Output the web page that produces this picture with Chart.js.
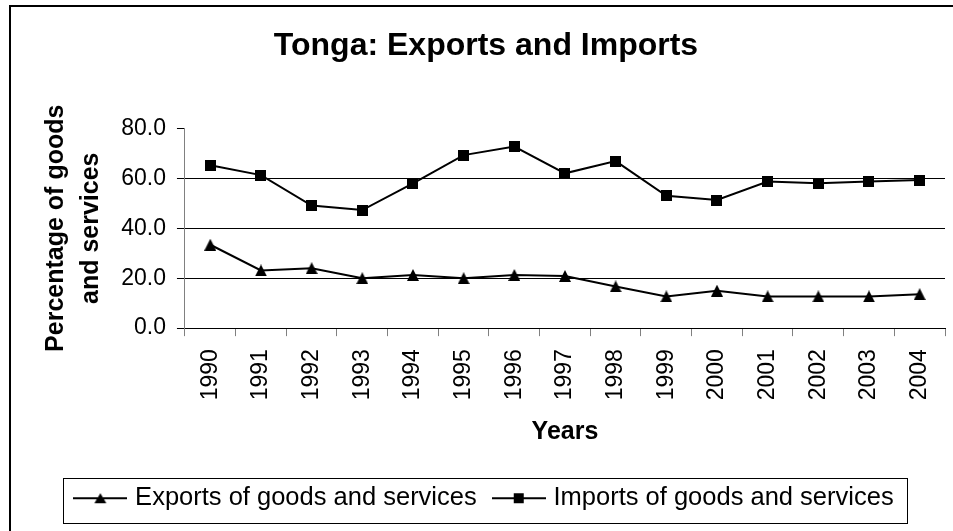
<!DOCTYPE html>
<html>
<head>
<meta charset="utf-8">
<script src="https://cdn.jsdelivr.net/npm/chart.js@4.4.1/dist/chart.umd.min.js"></script>
<style>
  html, body { margin: 0; padding: 0; background: #ffffff; }
  canvas { display: block; }
</style>
</head>
<body>
<canvas id="chart" width="953" height="531"></canvas>
<script>
// ---- Data ----
const years = ['1990','1991','1992','1993','1994','1995','1996','1997','1998','1999','2000','2001','2002','2003','2004'];
const exportsPct = [33.4, 23.1, 24.0, 20.0, 21.3, 20.0, 21.3, 20.9, 16.7, 12.7, 15.0, 12.7, 12.7, 12.7, 13.6];
const importsPct = [65.2, 61.3, 49.1, 47.3, 58.0, 69.3, 72.7, 62.0, 66.9, 53.0, 51.3, 58.7, 58.0, 58.7, 59.3];
const yTicks = [0, 20, 40, 60, 80];
const seriesNames = ['Exports of goods and services', 'Imports of goods and services'];
const chartTitle = 'Tonga: Exports and Imports';
const xTitle = 'Years';
const yTitle = ['Percentage of goods', 'and services'];

const FONT = '"Liberation Sans", Arial, Helvetica, sans-serif';
Chart.defaults.font.family = FONT;
Chart.defaults.color = '#000';

// ---- Marker images ----
function makeTriangle(w, h) {
  const c = document.createElement('canvas');
  c.width = w; c.height = h;
  const g = c.getContext('2d');
  g.fillStyle = '#000';
  g.beginPath();
  g.moveTo(w / 2, 0);
  g.lineTo(w, h);
  g.lineTo(0, h);
  g.closePath();
  g.fill();
  return c;
}
function makeSquare(s) {
  const c = document.createElement('canvas');
  c.width = s; c.height = s;
  const g = c.getContext('2d');
  g.fillStyle = '#000';
  g.fillRect(0, 0, s, s);
  return c;
}
function makeLegendIcon(kind) {
  const w = 54, h = 14;
  const c = document.createElement('canvas');
  c.width = w; c.height = h;
  const g = c.getContext('2d');
  g.fillStyle = '#000';
  g.fillRect(0, 6, w, 2);
  if (kind === 'tri') {
    g.beginPath();
    g.moveTo(w / 2, 2);
    g.lineTo(w / 2 + 6, 12);
    g.lineTo(w / 2 - 6, 12);
    g.closePath();
    g.fill();
  } else {
    g.fillRect(w / 2 - 5, 2, 10, 10);
  }
  return c;
}
const triImg = makeTriangle(12, 12);
const sqImg = makeSquare(11);
const legendIcons = [makeLegendIcon('tri'), makeLegendIcon('sq')];

// ---- Decorations: outer frame and legend box ----
const framePlugin = {
  id: 'framePlugin',
  afterDraw(chart) {
    const ctx = chart.ctx;
    ctx.save();
    ctx.strokeStyle = '#000';
    ctx.lineWidth = 2;
    ctx.strokeRect(10, 6, 1000, 1000);
    const hb = chart.legend && chart.legend.legendHitBoxes;
    if (hb && hb.length) {
      const first = hb[0], last = hb[hb.length - 1];
      const l = Math.round(first.left - 15) + 0.5;
      const r = Math.round(last.left + last.width + 13) + 0.5;
      const t = Math.round(first.top - 7.5) + 0.5;
      const b = Math.round(first.top + first.height + 12) + 0.5;
      ctx.lineWidth = 1;
      ctx.strokeRect(l, t, r - l, b - t);
    }
    ctx.restore();
  }
};

new Chart(document.getElementById('chart'), {
  type: 'line',
  data: {
    labels: years,
    datasets: [
      {
        label: seriesNames[0],
        data: exportsPct,
        borderColor: '#000',
        backgroundColor: '#000',
        borderWidth: 2,
        tension: 0,
        pointStyle: triImg,
        pointRadius: 6,
        fill: false
      },
      {
        label: seriesNames[1],
        data: importsPct,
        borderColor: '#000',
        backgroundColor: '#000',
        borderWidth: 2,
        tension: 0,
        pointStyle: sqImg,
        pointRadius: 6,
        fill: false
      }
    ]
  },
  options: {
    responsive: false,
    animation: false,
    devicePixelRatio: 1,
    layout: { padding: { left: 27, right: 8, top: 0, bottom: 10 } },
    plugins: {
      title: {
        display: true,
        text: chartTitle,
        color: '#000',
        font: { size: 32, weight: 'bold', family: FONT },
        padding: { top: 27, bottom: 63 }
      },
      legend: {
        position: 'bottom',
        labels: {
          usePointStyle: true,
          pointStyleWidth: 44,
          padding: 20,
          color: '#000',
          font: { size: 25.5, family: FONT },
          generateLabels(chart) {
            return chart.data.datasets.map((ds, i) => ({
              text: ds.label,
              pointStyle: legendIcons[i],
              fillStyle: '#000',
              strokeStyle: '#000',
              lineWidth: 0,
              hidden: false,
              datasetIndex: i
            }));
          }
        }
      },
      tooltip: { enabled: false }
    },
    scales: {
      x: {
        type: 'category',
        offset: true,
        afterFit(scale) {
          scale.paddingLeft = 0;
          scale.paddingRight = 0;
        },
        grid: {
          display: true,
          drawOnChartArea: false,
          drawTicks: true,
          tickLength: 8,
          offset: true,
          color: '#808080',
          tickColor: '#808080'
        },
        border: { display: true, color: '#000', width: 1 },
        ticks: {
          autoSkip: false,
          minRotation: 90,
          maxRotation: 90,
          padding: 13,
          color: '#000',
          font: { size: 23, family: FONT }
        },
        title: {
          display: true,
          text: xTitle,
          color: '#000',
          font: { size: 25, weight: 'bold', family: FONT },
          padding: { top: 3.5, bottom: 18.7 }
        }
      },
      y: {
        min: 0,
        max: 80,
        afterBuildTicks(scale) {
          scale.ticks = yTicks.map(v => ({ value: v }));
        },
        ticks: {
          padding: 11,
          color: '#000',
          font: { size: 23, family: FONT },
          callback: v => Number(v).toFixed(1)
        },
        grid: {
          color: c => (c.tick && c.tick.value === 80) ? 'rgba(0,0,0,0)' : '#000',
          tickColor: '#000',
          tickLength: 8,
          lineWidth: 1
        },
        border: { display: true, color: '#808080', width: 1 },
        title: {
          display: true,
          text: yTitle,
          color: '#000',
          font: { size: 25, weight: 'bold', family: FONT, lineHeight: 1.4 },
          padding: { top: 11.5, bottom: 1.7 }
        }
      }
    }
  },
  plugins: [framePlugin]
});
</script>
</body>
</html>
